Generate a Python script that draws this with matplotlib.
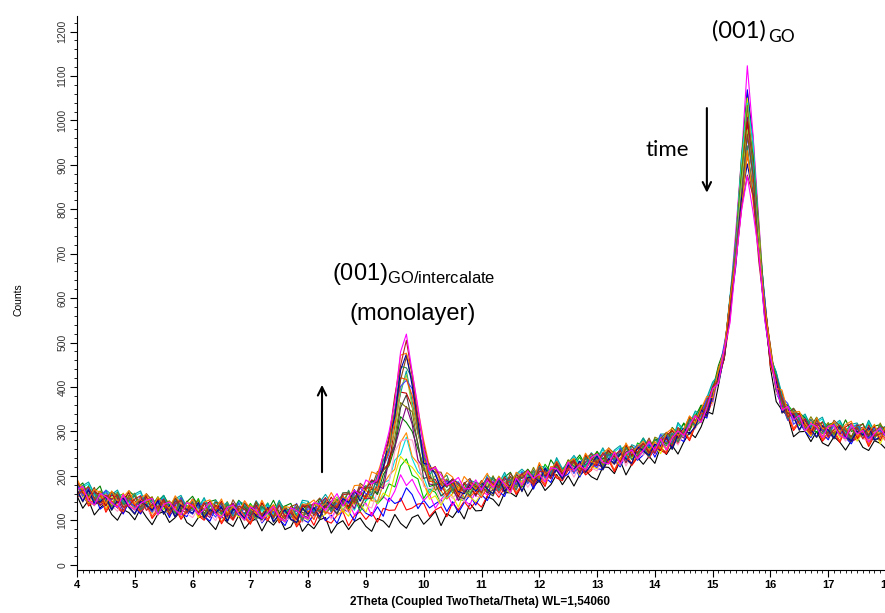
import numpy as np
import matplotlib.pyplot as plt
from matplotlib.ticker import MultipleLocator

plt.rcParams['font.family'] = ['Liberation Sans', 'DejaVu Sans']
plt.rcParams['mathtext.fontset'] = 'custom'
plt.rcParams['mathtext.rm'] = 'Liberation Sans'

# 2Theta grid (0.1 deg step)
two_theta = np.round(np.arange(4.0, 18.01, 0.1), 1)

background = [
    168, 160, 155, 151, 148, 146, 144, 142, 140, 139,
    138, 136, 135, 134, 132, 131, 130, 129, 128, 127,
    126, 125, 124, 123, 122, 121, 120, 120, 119, 119,
    118, 118, 117, 117, 116, 116, 115, 115, 115, 114,
    114, 114, 114, 114, 115, 115, 115, 116, 116, 116,
    117, 117, 118, 118, 119, 120, 121, 122, 123, 124,
    125, 127, 129, 131, 133, 135, 138, 141, 144, 147,
    158, 163, 168, 173, 177, 181, 185, 189, 193, 197,
    201, 204, 207, 210, 213, 216, 219, 222, 225, 228,
    231, 234, 237, 240, 243, 246, 249, 253, 257, 261,
    266, 271, 277, 283, 290, 298, 308, 320, 336, 356,
    382, 418, 470, 540, 610, 660, 680, 660, 610, 540,
    455, 400, 365, 345, 330, 320, 314, 310, 307, 304,
    302, 300, 299, 298, 297, 296, 295, 295, 294, 294, 294,
]

# scan-to-scan scatter (counts), one set per group of scans
jitter = [
    [12, -8, 15, -14, 5, 18, -6, -17, 9, 3, -12, 16, -3, -19, 7, 14, -10, 2, 19, -7,
     -15, 6, 11, -4, -18, 13, 0, -9, 17, -13, 4, 10, -16, 8, -2, 15, -11, -5, 20, -14,
     3, -8, 12, 17, -19, 1, 9, -12, 6, 14, -6, -17, 11, 5, -10, 18, -3, -15, 8, 13,
     -9, 2, 16, -18, 7, -4, 12, -13, 19, -1, -11, 15, 4, -16, 10, 6, -7, 17, -14, 3,
     14, -12, -2, 18, -8, 9, -17, 5, 12, -5, -15, 11, 7, -10, 16, -19, 2, 13, -6, 8,
     -13, 19, -4, 10, -16, 3, 15, -9, -1, 14, -18, 6, 12, -7, 17, -11, 1, 9, -14, 20,
     -3, -12, 8, 15, -17, 4, 11, -8, 18, -5, -10, 13, 2, -15, 7, 16, -6, -13, 10, 4, -9],
    [-5, 14, -11, 3, 19, -16, 8, -2, -13, 17, 6, -9, 12, -18, 1, 15, -7, 10, -14, 4,
     18, -3, -12, 9, 14, -17, 5, -8, 16, -1, -15, 11, 2, -6, 19, -10, 7, 13, -18, 0,
     9, -14, 17, -4, -11, 6, 15, -19, 3, 12, -7, 8, -16, 13, 4, -2, 18, -12, -5, 10,
     16, -13, 1, 7, -17, 14, -6, 11, -9, 5, -18, 3, 13, -10, 8, 17, -15, -1, 12, -8,
     6, -16, 19, -3, -12, 9, 2, 15, -11, -4, 14, -7, 10, -19, 5, 12, -14, 0, 18, -9,
     7, -2, -15, 16, -6, 11, -17, 4, 13, -10, 1, 17, -8, -13, 9, 5, -18, 14, -3, 8,
     -11, 19, -5, 2, -16, 12, 6, -9, 15, -14, 3, 10, -12, 18, -7, -1, 13, -17, 8, 11, -4],
    [8, 2, -10, 16, -15, -3, 13, 7, -18, 11, -1, -14, 18, 4, -9, 10, -16, 14, -5, -11,
     15, 3, -7, -17, 12, 8, -13, 19, -2, 6, -10, 17, -15, 1, 11, -6, -19, 9, 14, -4,
     -12, 5, 16, -9, 2, -17, 13, 7, -14, 18, 0, -8, 10, -15, 19, -5, -11, 14, 4, -16,
     12, -3, 7, 15, -12, 9, -18, 2, 17, -8, 5, -13, 11, -1, -16, 18, -6, 8, 13, -19,
     10, 1, -14, 16, -9, -4, 12, -17, 6, 15, -7, -12, 19, 3, -15, 8, 11, -10, -2, 17,
     -16, 6, 14, -8, 4, -13, 18, -3, 9, -18, 13, -5, -10, 17, 2, -14, 7, 11, -19, 5,
     16, -9, 3, -12, 15, 8, -6, -16, 12, 0, -13, 18, 6, -4, -17, 10, 14, -11, 1, 9, 7],
    [-16, 9, 4, -7, 12, 2, -19, 15, -4, 6, 17, -12, -1, 13, -17, 8, 5, -15, 18, -6,
     -3, 14, -20, 10, 3, -8, 16, -11, -2, 12, 7, -18, 15, -1, -13, 19, 4, -9, 11, -16,
     16, 0, -7, 13, -15, 8, -4, 18, -12, 2, 11, -19, 6, 14, -9, -2, 17, -14, 9, 1,
     -6, 13, -16, 4, 18, -11, 8, -3, -15, 15, 2, -9, 19, -13, 5, 10, -17, 12, -7, 16,
     -14, 7, -1, 11, -18, 14, 3, -10, 17, -5, 9, -16, 13, -3, 6, 18, -12, -6, 10, -19,
     15, 4, -9, 12, -14, 1, 19, -8, -13, 7, -2, 16, -17, 5, 11, -10, 13, -4, 8, -15,
     18, -7, 2, -18, 14, 6, -11, 17, -1, -9, 12, -14, 9, 3, -16, 15, -5, 7, -12, 19, -8],
    [4, -13, 18, -9, -2, 11, -16, 7, 14, -5, -19, 10, 3, -7, 16, -12, 8, -17, 12, 1,
     -6, 19, -14, 5, -1, 13, -18, 9, 6, -11, 15, -4, -10, 17, -15, 2, 12, -8, -16, 18,
     -3, 8, -17, 14, 5, -12, 10, -6, 19, -14, 7, 15, -9, -3, 13, -18, 4, 11, -13, 6,
     -17, 12, 9, -14, 1, 16, -7, -12, 14, -2, 10, -6, -15, 19, -11, 3, 13, -19, 7, 5,
     -10, 17, -4, 8, -16, 12, -1, 15, -13, 2, 18, -15, 6, -8, 11, -3, -17, 16, 4, -11,
     9, -1, 14, -18, 7, 13, -9, -5, 17, -16, 3, 11, -13, 6, -7, 19, -14, 2, 12, -10,
     -4, 15, -18, 10, 8, -12, 16, -2, -15, 13, 5, -11, 17, -6, -14, 9, 1, 18, -9, -3, 14],
    [16, -2, -14, 9, 6, -18, 13, -7, 3, 19, -10, 5, 15, -16, 11, -3, -12, 17, 0, -8,
     12, -17, 8, 14, -5, 18, -13, 2, -9, 16, -1, -12, 19, -6, 10, -15, 7, 4, -18, 13,
     6, 12, -11, -3, 17, -9, 1, -16, 14, 8, -14, 19, -5, 9, -17, 3, 15, -10, -4, 11,
     18, -8, 5, -15, 12, 7, -19, 13, 2, -11, -3, 16, -12, 10, -6, -17, 14, 1, 9, -15,
     20, -9, -2, 13, -14, 6, 11, -18, 17, -5, -12, 8, 16, -1, -16, 19, -7, 4, 12, -13,
     2, -18, 10, 15, -8, -3, 18, -11, 6, 14, -15, 9, -6, 17, 1, -12, 13, -17, 7, 3,
     11, -14, 19, -9, 4, 16, -4, -18, 15, -7, -2, 12, -10, 8, 17, -15, 5, -6, 13, -19, 10],
    [-11, 6, 19, -3, -15, 10, 2, 14, -12, -7, 9, 18, -14, 1, -6, 13, -18, 7, 16, -10,
     4, -9, 15, -13, 11, -2, 8, -19, 12, 5, -16, 14, -5, 9, -11, 17, -8, 1, -14, 19,
     11, -15, 3, 18, -6, -13, 12, 6, -17, 10, -2, 7, -18, 15, 0, 12, -9, 17, -13, -4,
     13, -10, 18, -5, -14, 9, 3, -16, 11, 6, -19, 12, 2, -8, 16, -12, 7, 14, -3, -17,
     8, 4, -13, 19, -9, 1, 15, -6, -15, 12, -4, 17, -11, 6, 13, -18, 9, -1, 16, -8,
     -14, 11, 5, -17, 18, -7, -3, 14, -12, 8, 17, -6, -16, 12, 3, 9, -19, 15, -8, 2,
     -12, 19, 6, -14, 10, -4, 13, -11, 5, 16, -17, 3, 14, -9, 7, 11, -13, 18, -5, -1, 6],
    [2, 17, -9, -16, 13, 8, -4, -12, 19, -6, -13, 3, 11, 16, -19, 6, 12, -5, -15, 14,
     7, -11, 2, 18, -7, -14, 10, 15, -4, -18, 13, 5, -12, 0, 16, -9, -17, 14, 8, -3,
     -18, 15, 7, -10, 4, 19, -13, -1, 10, -8, 17, -4, -14, 11, 8, -16, 5, 13, -19, 9,
     -1, -15, 14, 6, -11, 2, 17, -8, -3, 18, -12, 9, -5, 15, 1, -18, 11, -9, 19, -2,
     4, -17, 12, 7, -13, 16, -6, 3, -11, 14, 19, -3, -9, 14, -16, 5, 10, -14, 2, 17,
     -8, 13, -18, 3, 12, -6, 8, 16, -15, -2, 15, -11, 7, -19, 10, 14, -5, -10, 18, -13,
     6, 1, -16, 12, -3, 17, -12, 9, 4, -17, 11, 14, -7, -13, 19, -1, 8, -18, 3, 15, -5],
]

# (001) GO/intercalate reflection, normalised profile
mono_x = np.round(np.arange(8.0, 11.41, 0.1), 1)
mono_shape = [
    0.02, 0.03, 0.04, 0.05, 0.06, 0.07, 0.08, 0.10, 0.11, 0.13,
    0.15, 0.18, 0.23, 0.31, 0.45, 0.68, 0.92, 1.00, 0.86, 0.58,
    0.36, 0.26, 0.20, 0.17, 0.15, 0.13, 0.11, 0.10, 0.08, 0.07,
    0.06, 0.05, 0.03, 0.02, 0.01,
]

# (001) GO reflection, sharp top part, normalised profile
go_x = np.round(np.arange(15.1, 16.11, 0.1), 1)
go_shape = [0.01, 0.04, 0.12, 0.30, 0.62, 1.00, 0.72, 0.36, 0.13, 0.04, 0.01]

# per scan (in time order): peak heights above background and level shift
mono_height = [0, 25, 45, 70, 100, 120, 140, 160, 180, 200, 220, 240,
               255, 270, 285, 295, 305, 315, 325, 335, 345, 355, 365, 385]
go_height = [400, 415, 390, 430, 380, 360, 370, 340, 355, 330, 320, 335,
             310, 300, 290, 305, 280, 265, 275, 250, 240, 230, 215, 200]
level = [-25, -12, -8, 0, 5, -3, 8, 2, -5, 10, 0, 6,
         -6, 4, 12, -2, 3, -8, 7, 0, -4, 9, 1, -1]
colors = ['#000000', '#ff0000', '#0000ff', '#ff00ff', '#00c000', '#e6e600',
          '#00e0e0', '#ff8c00', '#ff9ecf', '#008000', '#800080', '#808000',
          '#404040', '#c00000', '#00a0a0', '#9acd32', '#4040ff', '#ff4500',
          '#8b4513', '#2e8b57', '#0000a0', '#ff7f00', '#b22222', '#ff00ff']

fig = plt.figure(figsize=(8.85, 6.13), dpi=100)
ax = fig.add_axes([77 / 885, 1 - 570 / 613, 809 / 885, 554 / 613])

bg = np.array(background, dtype=float)
mono = np.zeros_like(bg)
mono[np.searchsorted(two_theta, mono_x)] = mono_shape
go = np.zeros_like(bg)
go[np.searchsorted(two_theta, go_x)] = go_shape

for i in range(len(mono_height)):
    counts = (bg + level[i] + np.array(jitter[i % len(jitter)])
              + mono_height[i] * mono + go_height[i] * go)
    ax.plot(two_theta, counts, color=colors[i], lw=0.8)

ax.set_xlim(4, 18)
ax.set_ylim(-12, 1235)
ax.spines['top'].set_visible(False)
ax.spines['right'].set_visible(False)
ax.xaxis.set_major_locator(MultipleLocator(1))
ax.xaxis.set_minor_locator(MultipleLocator(0.1))
ax.yaxis.set_major_locator(MultipleLocator(100))
ax.yaxis.set_minor_locator(MultipleLocator(20))
ax.tick_params(which='major', direction='out', length=5, width=0.8)
ax.tick_params(which='minor', direction='out', length=2.5, width=0.6)
ax.tick_params(axis='x', labelsize=8, pad=2)
ax.tick_params(axis='y', labelsize=7.5, labelrotation=90, pad=2, labelcolor='#333333')
for lbl in ax.get_xticklabels():
    lbl.set_fontweight('bold')
for lbl in ax.get_yticklabels():
    lbl.set_va('center')

fig.text(480 / 885, 1 - 602 / 613, '2Theta (Coupled TwoTheta/Theta) WL=1,54060',
         ha='center', va='center', fontsize=8.5, fontweight='bold')
fig.text(18 / 885, 1 - 300 / 613, 'Counts', rotation=90,
         ha='center', va='center', fontsize=7.5)

# annotations
ax.text(8.41, 640, r'$\mathrm{(001)_{GO/intercalate}}$', fontsize=17,
        ha='left', va='baseline')
ax.text(8.71, 550, '(monolayer)', fontsize=17, ha='left', va='baseline')
ax.text(14.99, 1187, '(001)', fontsize=17, family='Lato', ha='left', va='baseline')
ax.text(15.96, 1176, 'GO', fontsize=12.5, family='Lato', ha='left', va='baseline')
ax.text(14.21, 933, 'time', fontsize=16, family='Lato', ha='center', va='center')

arrow = dict(arrowstyle='->,head_length=0.6,head_width=0.3', color='black', lw=1.5)
ax.annotate('', xy=(14.9, 831), xytext=(14.9, 1034), arrowprops=arrow)
ax.annotate('', xy=(8.24, 411), xytext=(8.24, 202), arrowprops=arrow)

fig.savefig('out.png', dpi=100)
